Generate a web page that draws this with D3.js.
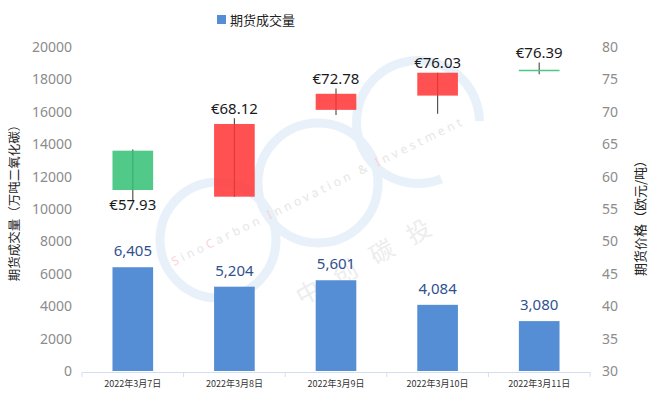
<!DOCTYPE html>
<html>
<head>
<meta charset="utf-8">
<script src="https://cdn.jsdelivr.net/npm/d3@7"></script>
<style>
  html, body { margin: 0; padding: 0; background: #fff; }
  svg { display: block; font-family: 'Noto Sans', 'Noto Sans CJK SC', sans-serif; }
</style>
</head>
<body>
<div id="chart"></div>
<script>
// data
const dates = ['2022年3月7日', '2022年3月8日', '2022年3月9日', '2022年3月10日', '2022年3月11日']
const volume = [6405, 5204, 5601, 4084, 3080]
const priceOpen = [64.0, 56.9, 70.3, 72.5, 76.39]
const priceHigh = [64.2, 69.0, 73.6, 76.03, 77.6]
const priceLow = [56.4, 56.9, 69.5, 69.7, 75.8]
const priceClose = [57.93, 68.12, 72.78, 76.03, 76.39]
const volTicks = [0, 2000, 4000, 6000, 8000, 10000, 12000, 14000, 16000, 18000, 20000]
const priceTicks = [30, 35, 40, 45, 50, 55, 60, 65, 70, 75, 80]

const width = 657
const height = 397
const plot = { left: 82, right: 590, top: 47, bottom: 371 }

const svg = d3.select('#chart')
  .append('svg')
  .attr('width', width)
  .attr('height', height)
  .attr('viewBox', `0 0 ${width} ${height}`)

const x = d3.scaleBand().domain(dates).range([plot.left, plot.right])
const yVol = d3.scaleLinear().domain([0, 20000]).range([plot.bottom, plot.top])
const yPrice = d3.scaleLinear().domain([30, 80]).range([plot.bottom, plot.top])
const markW = x.bandwidth() * 0.4

// watermark
const wm = svg.append('g').attr('class', 'watermark')
const ring = d3.arc()
wm.append('circle').attr('cx', 218).attr('cy', 240).attr('r', 58)
  .attr('fill', 'none').attr('stroke', '#e8f1fa').attr('stroke-width', 9)
wm.append('circle').attr('cx', 318).attr('cy', 183).attr('r', 60)
  .attr('fill', 'none').attr('stroke', '#e8f1fa').attr('stroke-width', 9)
wm.append('path')
  .attr('transform', 'translate(418,122)')
  .attr('d', ring({ innerRadius: 57, outerRadius: 66, startAngle: 2.75, endAngle: 2.75 + Math.PI * 1.62 }))
  .attr('fill', '#e8f1fa')
const wmText = wm.append('text')
  .attr('transform', 'translate(174,266) rotate(-26)')
  .attr('font-size', 12)
  .attr('letter-spacing', 3.4)
  .attr('fill', '#e8e8e8')
const wmParts = [['S', 1], ['ino', 0], ['C', 1], ['arbon ', 0], ['I', 1], ['nnovation & ', 0], ['I', 1], ['nvestment', 0]]
wmParts.forEach(([t, red]) => {
  wmText.append('tspan').attr('fill', red ? '#f8d4d4' : '#e6e6e6').text(t)
})
wm.append('text')
  .attr('transform', 'translate(302,306) rotate(-29)')
  .attr('font-family', "'Noto Sans CJK SC', sans-serif")
  .attr('font-size', 24)
  .attr('letter-spacing', 18)
  .attr('fill', '#ededed')
  .text('中创碳投')

// axes
const axisL = svg.append('g').attr('class', 'axis-left')
axisL.selectAll('text')
  .data(volTicks)
  .join('text')
  .attr('x', 72)
  .attr('y', d => yVol(d))
  .attr('dy', '0.35em')
  .attr('text-anchor', 'end')
  .attr('font-size', 14)
  .attr('fill', '#8c8c8c')
  .text(d => d)

const axisR = svg.append('g').attr('class', 'axis-right')
axisR.selectAll('text')
  .data(priceTicks)
  .join('text')
  .attr('x', 602)
  .attr('y', d => yPrice(d))
  .attr('dy', '0.35em')
  .attr('font-size', 14)
  .attr('fill', '#8c8c8c')
  .text(d => d)

const xAxis = svg.append('g')
  .attr('transform', `translate(0,${plot.bottom + 1})`)
  .call(d3.axisBottom(x).tickSize(0).tickPadding(9))
xAxis.select('.domain').attr('stroke', '#d3dfee')
xAxis.selectAll('text')
  .attr('font-size', 9)
  .attr('fill', '#333')
  .attr('font-family', "'Noto Sans CJK SC', sans-serif")
xAxis.selectAll('.sep')
  .data(d3.range(dates.length + 1))
  .join('line')
  .attr('class', 'sep')
  .attr('x1', i => plot.left + i * x.step())
  .attr('x2', i => plot.left + i * x.step())
  .attr('y1', 0)
  .attr('y2', 5)
  .attr('stroke', '#d3dfee')

// axis titles
svg.append('text')
  .attr('transform', 'translate(19,200) rotate(-90)')
  .attr('text-anchor', 'middle')
  .attr('font-family', "'Noto Sans CJK SC', sans-serif")
  .attr('font-size', 12.5)
  .attr('fill', '#222')
  .text('期货成交量（万吨二氧化碳）')
svg.append('text')
  .attr('transform', 'translate(645,215) rotate(-90)')
  .attr('text-anchor', 'middle')
  .attr('font-family', "'Noto Sans CJK SC', sans-serif")
  .attr('font-size', 13)
  .attr('fill', '#222')
  .text('期货价格（欧元/吨）')

// volume bars
const bars = svg.append('g').attr('class', 'bars')
bars.selectAll('rect')
  .data(volume)
  .join('rect')
  .attr('x', (d, i) => x(dates[i]) + (x.bandwidth() - markW) / 2)
  .attr('y', d => yVol(d))
  .attr('width', markW)
  .attr('height', d => yVol(0) - yVol(d))
  .attr('fill', '#558ed5')
bars.selectAll('text')
  .data(volume)
  .join('text')
  .attr('x', (d, i) => x(dates[i]) + x.bandwidth() / 2)
  .attr('y', d => yVol(d) - 11)
  .attr('text-anchor', 'middle')
  .attr('font-size', 15)
  .attr('fill', '#2f528f')
  .text(d => d3.format(',')(d))

// candlesticks
const candles = svg.append('g').attr('class', 'candles')
const candleData = dates.map((d, i) => ({
  date: d, open: priceOpen[i], high: priceHigh[i], low: priceLow[i], close: priceClose[i],
}))
const cx = d => x(d.date) + x.bandwidth() / 2
candles.selectAll('line.wick')
  .data(candleData)
  .join('line')
  .attr('class', 'wick')
  .attr('x1', cx).attr('x2', cx)
  .attr('y1', d => yPrice(d.high))
  .attr('y2', d => yPrice(d.low))
  .attr('stroke', '#555')
  .attr('stroke-width', 1.2)
candles.selectAll('rect')
  .data(candleData.filter(d => d.open !== d.close))
  .join('rect')
  .attr('x', d => cx(d) - markW / 2)
  .attr('y', d => yPrice(Math.max(d.open, d.close)))
  .attr('width', markW)
  .attr('height', d => Math.abs(yPrice(d.open) - yPrice(d.close)))
  .attr('fill', d => (d.close > d.open ? '#ff3333' : '#33bf73'))
  .attr('fill-opacity', 0.85)
candles.selectAll('line.flat')
  .data(candleData.filter(d => d.open === d.close))
  .join('line')
  .attr('class', 'flat')
  .attr('x1', d => cx(d) - markW / 2)
  .attr('x2', d => cx(d) + markW / 2)
  .attr('y1', d => yPrice(d.close))
  .attr('y2', d => yPrice(d.close))
  .attr('stroke', '#4cc688')
  .attr('stroke-width', 1.5)
candles.selectAll('text')
  .data(candleData)
  .join('text')
  .attr('x', cx)
  .attr('y', d => (d.close >= d.open ? yPrice(d.high) - 10 : yPrice(d.close) + 15))
  .attr('dy', '0.35em')
  .attr('text-anchor', 'middle')
  .attr('font-size', 15)
  .attr('fill', '#1a1a1a')
  .text(d => `€${d.close.toFixed(2)}`)

// legend
const legend = svg.append('g').attr('transform', 'translate(217,20)')
legend.append('rect').attr('x', 0).attr('y', -5).attr('width', 9).attr('height', 9).attr('fill', '#558ed5')
legend.append('text')
  .attr('x', 13)
  .attr('dy', '0.35em')
  .attr('font-family', "'Noto Sans CJK SC', sans-serif")
  .attr('font-size', 13)
  .attr('fill', '#222')
  .text('期货成交量')
</script>
</body>
</html>
